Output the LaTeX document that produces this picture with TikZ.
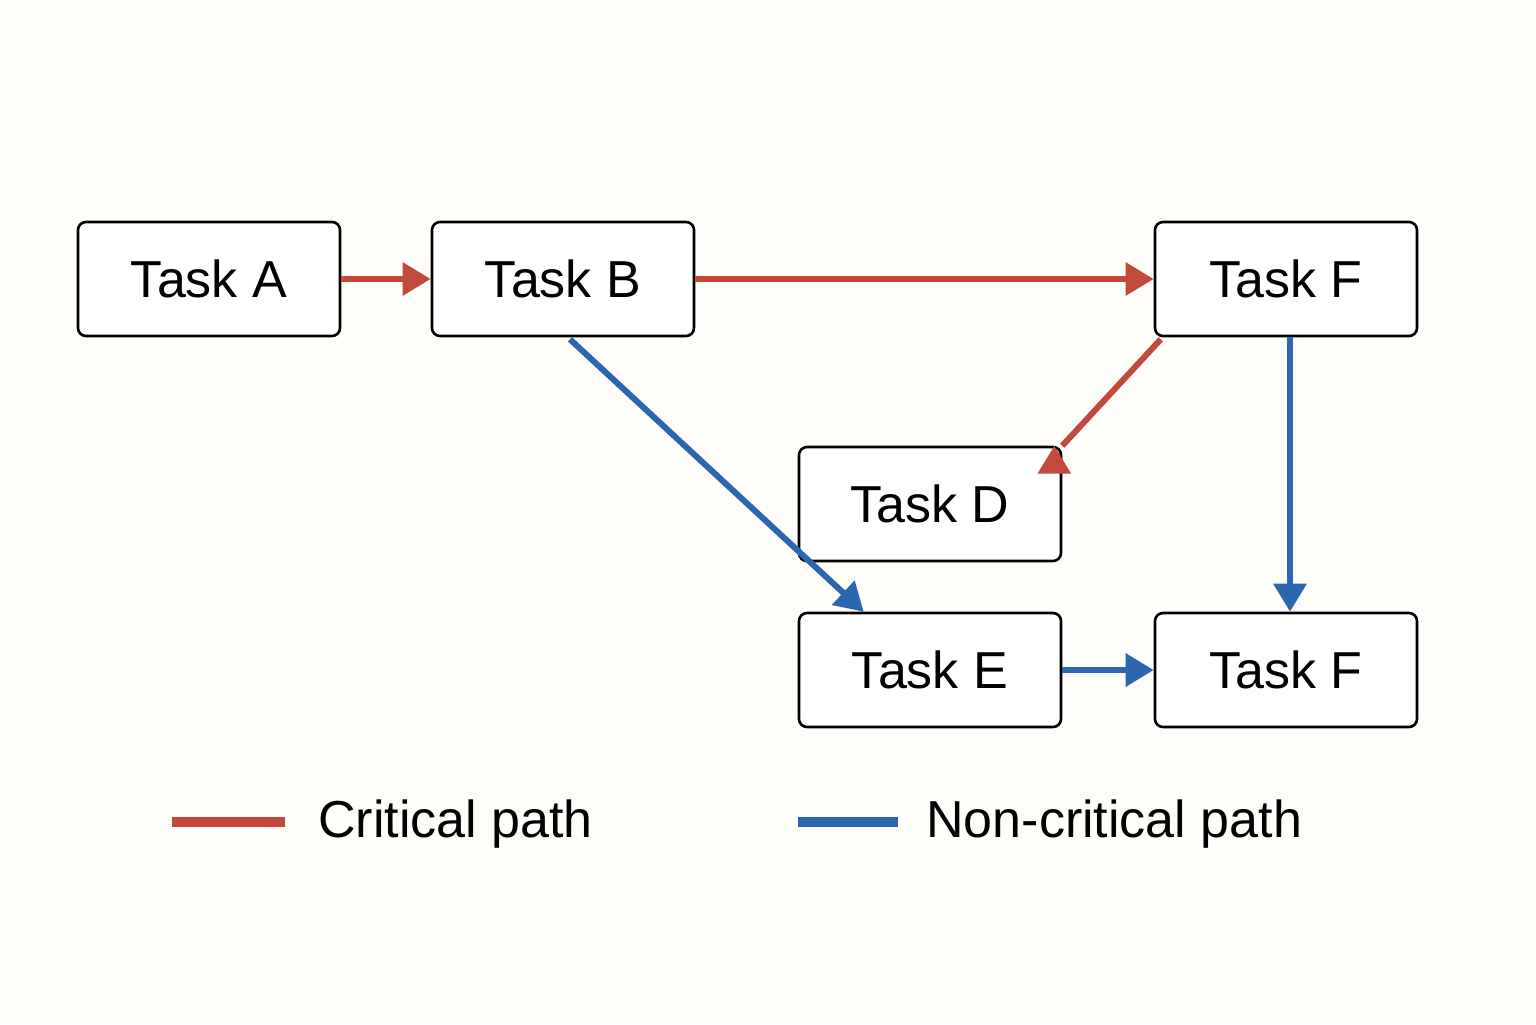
\documentclass[tikz,border=0pt]{standalone}
\usepackage{fontspec}
\setmainfont{Liberation Sans}
\usetikzlibrary{arrows.meta}
\definecolor{crit}{HTML}{C2493B}
\definecolor{ncrit}{HTML}{2C66AE}
\definecolor{bg}{HTML}{FEFDFA}
\begin{document}
\begin{tikzpicture}[x=0.5pt,y=-0.5pt,
 task/.style={draw=black,line width=1.3pt,rounded corners=4pt,fill=white,minimum width=131pt,minimum height=57pt,inner sep=0pt,font=\fontsize{26}{30}\selectfont},
 arr/.style={line width=3pt,-{Triangle[length=14pt,width=16pt]}},
 cr/.style={arr,draw=crit,fill=crit},
 nc/.style={arr,draw=ncrit,fill=ncrit},
 lab/.style={anchor=west,inner sep=0pt,font=\fontsize{26}{30}\selectfont}]
\fill[bg] (0,0) rectangle (1536,1024);
\useasboundingbox (0,0) rectangle (1536,1024);
\node[task] (A) at (209,279) {Task A};
\node[task] (B) at (563,279) {Task B};
\node[task] (F1) at (1286,279) {Task F};
\node[task] (D) at (930,504) {Task D};
\node[task] (E) at (930,670) {Task E};
\node[task] (F2) at (1286,670) {Task F};
\draw[cr] (A) -- (B);
\draw[cr] (B) -- (F1);
\draw[cr] (F1.south west)++(7,2) coordinate (fs) (fs) -- (D.north east) ++(-8,0);
\draw[nc] (B.south)++(7,2) coordinate (bs) (bs) -- ([xshift=33pt]E.north west);
\draw[nc] ([xshift=2pt]F1.south) -- ([xshift=2pt]F2.north);
\draw[nc] (E) -- (F2);
\coordinate (r1) at (172,822); \coordinate (r2) at (285,822);
\coordinate (b1) at (798,822); \coordinate (b2) at (898,822);
\draw[crit,line width=5pt] (r1) -- (r2);
\draw[ncrit,line width=5pt] (b1) -- (b2);
\node[lab] (lc) at (318,824) {Critical path};
\node[lab] (ln) at (926,824) {Non-critical path};
\end{tikzpicture}
\end{document}
